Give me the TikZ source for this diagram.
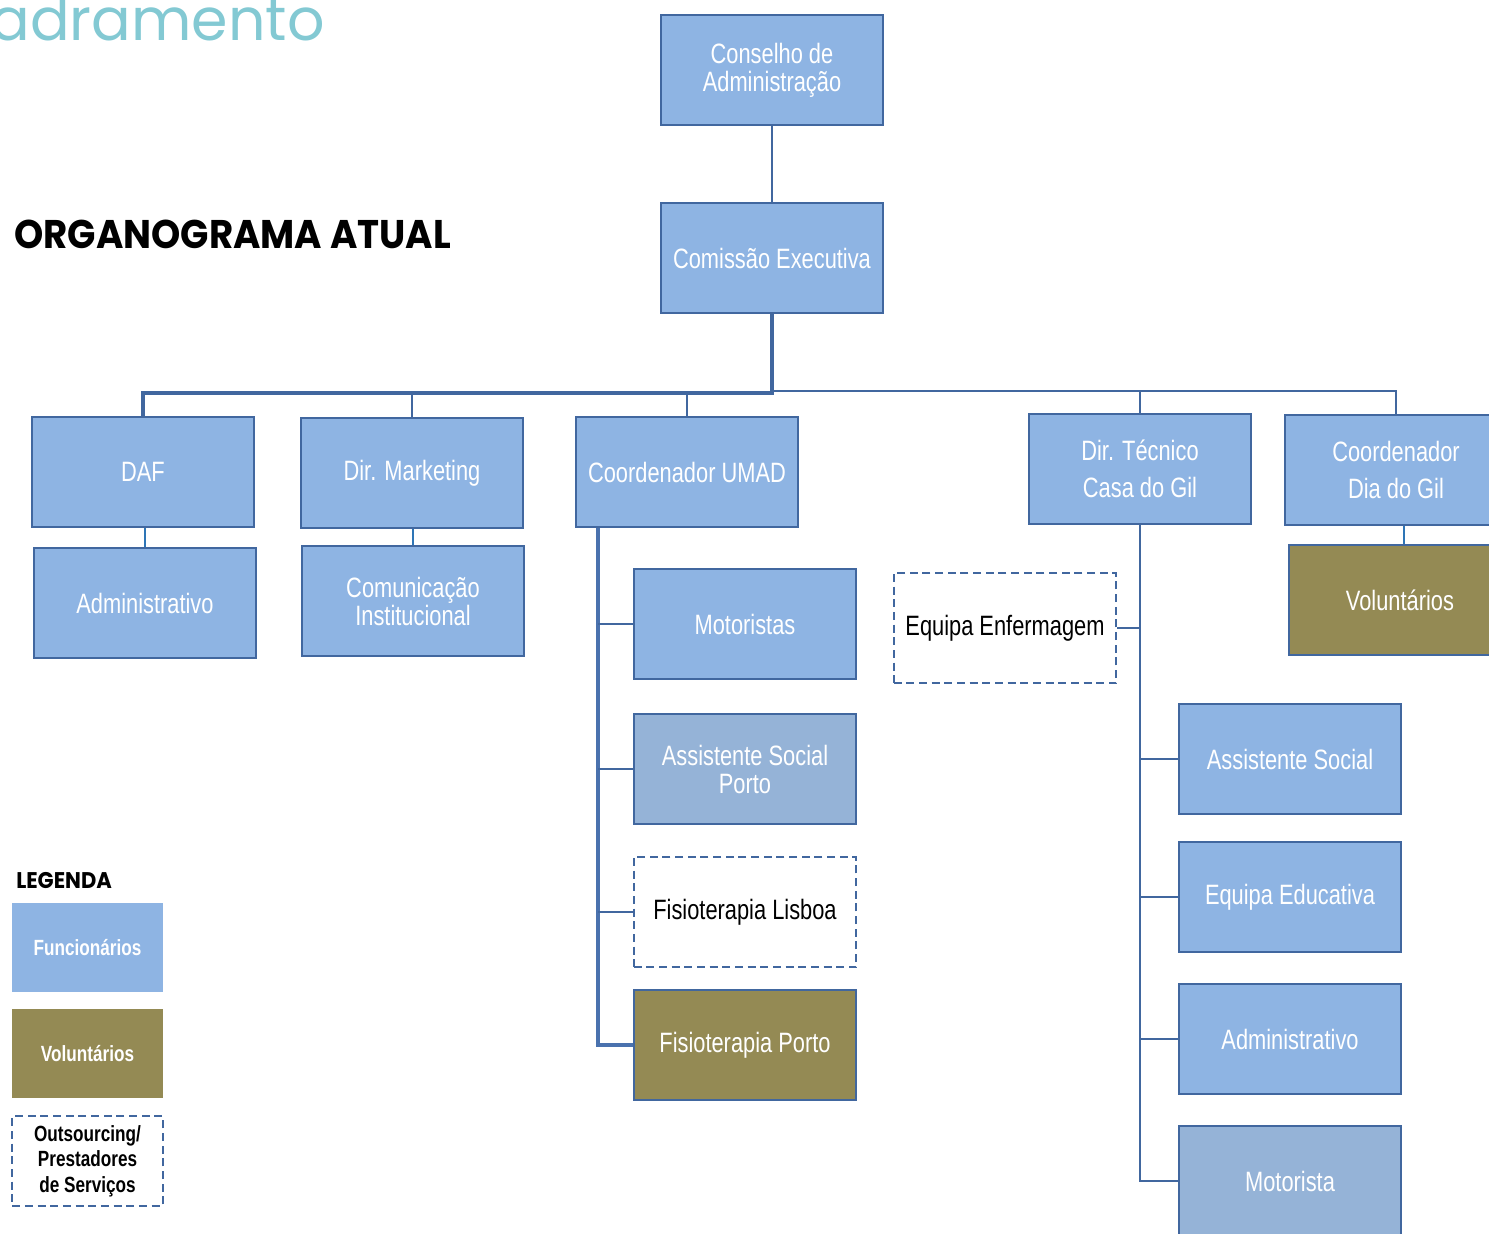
\documentclass[tikz,border=0pt]{standalone}
\usepackage{fontspec}
\setmainfont{Liberation Sans}
\newfontfamily\boxfont[FakeStretch=0.78]{Liberation Sans}
\newfontfamily\headfont{Poppins}
\newfontfamily\titlefont[FakeStretch=0.93]{Poppins}
\usepackage{xcolor}
\usetikzlibrary{positioning}

\definecolor{staffblue}{HTML}{8EB4E3}
\definecolor{greyblue}{HTML}{95B3D7}
\definecolor{olivebox}{HTML}{948A54}
\definecolor{edgeblue}{HTML}{41679F}
\definecolor{feedblue}{HTML}{2E75B6}
\definecolor{spineblue}{HTML}{4A72AE}
\definecolor{tealhead}{HTML}{83C9D3}

\begin{document}
\begin{tikzpicture}[x=0.75pt,y=-0.75pt,
  unit/.style={draw=edgeblue,line width=1.5pt,fill=staffblue,text=white,
    minimum width=167pt,minimum height=83pt,inner sep=0pt,align=center,
    font=\boxfont\fontsize{21}{21}\selectfont},
  volbox/.style={unit,fill=olivebox},
  extbox/.style={unit,fill=white,text=black,dash pattern=on 6pt off 3.5pt},
  legbox/.style={minimum width=113pt,minimum height=67pt,inner sep=0pt,align=center,
    text=white,font=\boxfont\bfseries\fontsize{16.5}{19}\selectfont},
  link/.style={draw=edgeblue,line width=1.5pt},
  rbus/.style={draw=edgeblue,line width=1.2pt},
  trunk/.style={draw=edgeblue,line width=2.4pt},
  spine/.style={draw=spineblue,line width=3pt},
  feed/.style={draw=feedblue,line width=1.5pt}]
  \useasboundingbox (0,0) rectangle (1489,1233);
  \clip (0,0) rectangle (1489,1233);

  % headings
  \node[anchor=base east,inner sep=0pt,text=tealhead,font=\headfont\fontsize{44}{44}\selectfont]
    (head) at (325,40) {adramento};
  \node[anchor=base west,inner sep=0pt,font=\titlefont\bfseries\fontsize{30}{30}\selectfont]
    (title) at (14,248) {ORGANOGRAMA ATUAL};

  % top
  \node[unit] (cons) at (772,70) {Conselho de\\Administração};
  \node[unit] (ce) at (772,258) {Comissão Executiva};

  % first level
  \node[unit] (daf) at (143,472) {DAF};
  \node[unit] (mkt) at (412,473) {Dir. Marketing};
  \node[unit] (umad) at (687,472) {Coordenador UMAD};
  \node[unit] (dtec) at (1140,469) {Dir. Técnico\\[7pt]Casa do Gil};
  \node[unit] (dia) at (1396,470) {Coordenador\\[7pt]Dia do Gil};

  % under DAF / marketing / dia do gil
  \node[unit] (adm) at (145,603) {Administrativo};
  \node[unit] (com) at (413,601) {Comunicação\\Institucional};
  \node[volbox] (vol) at (1400,600) {Voluntários};

  % UMAD
  \node[unit] (mot) at (745,624) {Motoristas};
  \node[unit,fill=greyblue] (asp) at (745,769) {Assistente Social\\Porto};
  \node[extbox] (fisl) at (745,912) {Fisioterapia Lisboa};
  \node[volbox] (fisp) at (745,1045) {Fisioterapia Porto};

  % Casa do Gil
  \node[extbox] (enf) at (1005,628) {Equipa Enfermagem};
  \node[unit] (ass) at (1290,759) {Assistente Social};
  \node[unit] (edu) at (1290,897) {Equipa Educativa};
  \node[unit] (admc) at (1290,1039) {Administrativo};
  \node[unit,fill=greyblue] (motc) at (1290,1181) {Motorista};

  % legend
  \node[anchor=base west,inner sep=0pt,font=\titlefont\bfseries\fontsize{17}{17}\selectfont]
    (leg) at (16,888) {LEGENDA};
  \node[legbox,fill=staffblue] (legf) at (87.5,947.5) {Funcionários};
  \node[legbox,fill=olivebox] (legv) at (87.5,1053.5) {Voluntários};
  \node[legbox,draw=edgeblue,line width=1.5pt,dash pattern=on 6pt off 3.5pt,text=black]
    (lego) at (87.5,1161) {Outsourcing/\\Prestadores\\de Serviços};

  % connectors
  \coordinate (busl) at (0,393);
  \coordinate (busr) at (0,391);
  \coordinate (spu) at (598,0);
  \draw[link] (cons) -- (ce);
  \draw[trunk] (ce.south) -- (ce.south |- busl) -| (daf.north);
  \draw[link] (mkt.north) -- (mkt.north |- busl);
  \draw[link] (umad.north) -- (umad.north |- busl);
  \draw[rbus] (ce.south |- busr) -| (dtec.north);
  \draw[rbus] (dtec.north |- busr) -| (dia.north);
  \draw[feed] (adm.north) -- (adm.north |- daf.south);
  \draw[feed] (com.north) -- (com.north |- mkt.south);
  \draw[feed] ([xshift=3pt]vol.north) -- ([xshift=3pt]vol.north |- dia.south);
  \draw[spine] (spu |- umad.south) |- (fisp.west);
  \foreach \n in {mot,asp,fisl}
    \draw[link] (\n.west) -- (\n.west -| spu);
  \draw[link] (dtec.south) |- (motc.west);
  \foreach \n in {ass,edu,admc}
    \draw[link] (\n.west) -- (\n.west -| dtec.south);
  \draw[link] (enf.east) -- (enf.east -| dtec.south);
\end{tikzpicture}
\end{document}
